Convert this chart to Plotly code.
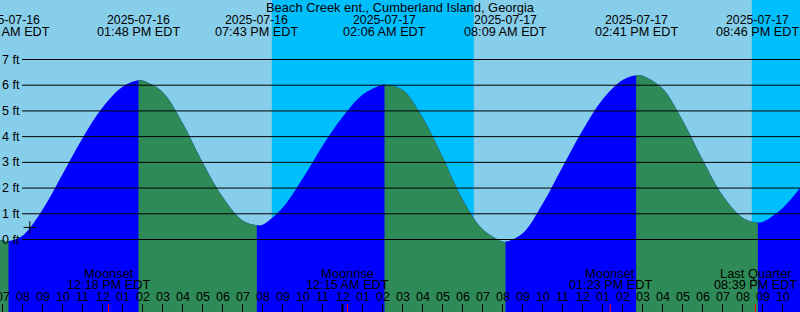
import plotly.graph_objects as go
import pandas as pd

# ---------------- data ----------------
TITLE = "Beach Creek ent., Cumberland Island, Georgia"
VIEW_START = "2025-07-16 06:52:30"
VIEW_END = "2025-07-17 22:52:30"

# tide extremes (time, height ft, kind)
extreme_times = ["2025-07-16 07:18", "2025-07-16 13:48", "2025-07-16 19:43",
                 "2025-07-17 02:06", "2025-07-17 08:09", "2025-07-17 14:41",
                 "2025-07-17 20:46"]
extreme_heights = [-0.06, 6.19, 0.56, 6.03, -0.09, 6.39, 0.66]
extreme_kinds = ["L", "H", "L", "H", "L", "H", "L"]
extreme_dates = ["2025-07-16", "2025-07-16", "2025-07-16", "2025-07-17",
                 "2025-07-17", "2025-07-17", "2025-07-17"]
extreme_clock = ["07:18 AM EDT", "01:48 PM EDT", "07:43 PM EDT", "02:06 AM EDT",
                 "08:09 AM EDT", "02:41 PM EDT", "08:46 PM EDT"]

# hourly water level readings, 2025-07-16 07:00 .. 2025-07-17 22:00
hour_times = pd.date_range("2025-07-16 07:00", "2025-07-17 22:00", freq="h")
hour_heights = [-0.04, 0.15, 1.16, 2.54, 3.94, 5.13, 5.94,
                6.18, 5.74, 4.54, 3.00, 1.66, 0.74,
                0.57, 1.23, 2.36, 3.64, 4.76, 5.63, 6.02,
                5.82, 4.75, 3.22, 1.57, 0.41, -0.08,
                0.23, 1.38, 2.82, 4.24, 5.44, 6.20,
                6.37, 5.87, 4.64, 3.11, 1.72, 0.85,
                0.68, 1.22]
# levels at the window edges
edge_times = [VIEW_START, VIEW_END]
edge_heights = [-0.02, 2.00]

# night (sunset -> sunrise)
night_starts = ["2025-07-16 20:28", "2025-07-17 20:28"]
night_ends = ["2025-07-17 06:34", VIEW_END]

# moon events
moon_times = ["2025-07-16 12:18", "2025-07-17 00:15", "2025-07-17 13:23", "2025-07-17 20:39"]
moon_events = ["Moonset", "Moonrise", "Moonset", "Last Quarter"]
moon_clock = ["12:18 PM EDT", "12:15 AM EDT", "01:23 PM EDT", "08:39 PM EDT"]

# current-time mark
now_time = ["2025-07-16 08:22"]
now_height = [0.47]

ft_levels = [0, 1, 2, 3, 4, 5, 6, 7]

# ---------------- style ----------------
SKY = "#87CEEB"
NIGHT = "#00BFFF"
RISE = "#0000FF"
FALL = "#2E8B57"
W, H = 800, 312
Y_RANGE = [-2.8194, 9.3139]
FAMILY = "Liberation Sans, Arial, sans-serif"


def font(size):
    return dict(family=FAMILY, size=size, color="#000000")


t0 = pd.Timestamp(VIEW_START)
t1 = pd.Timestamp(VIEW_END)
span = (t1 - t0).total_seconds()


def frac(t):
    return (pd.Timestamp(t) - t0).total_seconds() / span


def py(pix):
    return 1 - pix / H


curve = pd.DataFrame({
    "t": pd.to_datetime(list(hour_times) + extreme_times + edge_times),
    "h": hour_heights + extreme_heights + edge_heights,
}).sort_values("t")

fig = go.Figure()
layout_axes = {}


def add_fill(xa, ya, color):
    fig.add_trace(go.Scatter(x=[t0, t1], y=[-5, -5], mode="lines", line=dict(width=0),
                             xaxis=xa, yaxis=ya, hoverinfo="skip", showlegend=False))
    fig.add_trace(go.Scatter(x=curve["t"], y=curve["h"], mode="lines",
                             line=dict(width=0, shape="spline", color=color),
                             fill="tonexty", fillcolor=color,
                             xaxis=xa, yaxis=ya, hoverinfo="skip", showlegend=False))


# rising (blue) everywhere on the main subplot
add_fill("x", "y", RISE)

# falling (green) segments: clipped subplots ending at each low
bounds = [t0] + [pd.Timestamp(t) for t in extreme_times] + [t1]
k = 2
for i, kind in enumerate(extreme_kinds):
    if kind == "L":
        a, b = bounds[i], bounds[i + 1]
        add_fill(f"x{k}", f"y{k}", FALL)
        layout_axes[f"xaxis{k}"] = dict(type="date", domain=[frac(a), frac(b)],
                                        range=[str(a), str(b)], visible=False,
                                        anchor=f"y{k}", fixedrange=True)
        layout_axes[f"yaxis{k}"] = dict(domain=[0, 1], range=Y_RANGE, visible=False,
                                        anchor=f"x{k}", fixedrange=True)
        k += 1

# current time "+"
fig.add_trace(go.Scatter(x=now_time, y=now_height, mode="markers",
                         marker=dict(symbol="cross-thin", size=9,
                                     line=dict(width=1, color="black")),
                         hoverinfo="skip", showlegend=False))

shapes = []
annotations = []


def text(x, y, s, size, xref="x", yref="paper", xanchor="center"):
    annotations.append(dict(x=x, y=y, xref=xref, yref=yref, text=s, showarrow=False,
                            xanchor=xanchor, yanchor="middle", font=font(size)))


# night background
for s, e in zip(night_starts, night_ends):
    shapes.append(dict(type="rect", xref="x", yref="paper", x0=s, x1=e, y0=0, y1=1,
                       fillcolor=NIGHT, line=dict(width=0), layer="below"))

# horizontal level lines and labels
for v in ft_levels:
    shapes.append(dict(type="line", xref="paper", yref="y", x0=22 / W, x1=1, y0=v, y1=v,
                       line=dict(color="black", width=1), layer="above"))
    text(0, v, f"{v} ft", 12.5, xref="paper", yref="y", xanchor="left")

# hour ticks and labels
for t in hour_times:
    shapes.append(dict(type="line", xref="x", yref="paper", x0=t, x1=t, y0=0, y1=8 / H,
                       line=dict(color="black", width=2 if t.hour == 0 else 1),
                       layer="above"))
    text(t, py(297.2), f"{(t.hour % 12) or 12:02d}", 12.5)

# moon events
for t, ev, cl in zip(moon_times, moon_events, moon_clock):
    shapes.append(dict(type="line", xref="x", yref="paper", x0=t, x1=t, y0=0, y1=8 / H,
                       line=dict(color="red", width=1), layer="above"))
    text(t, py(273.5), ev, 12.9)
    text(t, py(285.3), cl, 12.7)

# tide extreme labels
for t, d, cl in zip(extreme_times, extreme_dates, extreme_clock):
    text(t, py(19.7), d, 12.3)
    text(t, py(31.7), cl, 12.7)

# title
text(0.5, py(7.5), TITLE, 12.9, xref="paper")

fig.update_layout(
    width=W, height=H,
    margin=dict(l=0, r=0, t=0, b=0, pad=0),
    paper_bgcolor=SKY,
    plot_bgcolor="rgba(0,0,0,0)",
    showlegend=False,
    xaxis=dict(type="date", range=[VIEW_START, VIEW_END], visible=False, fixedrange=True),
    yaxis=dict(range=Y_RANGE, visible=False, fixedrange=True),
    shapes=shapes,
    annotations=annotations,
    **layout_axes,
)

fig.write_html("out.html", config={"displayModeBar": False})
